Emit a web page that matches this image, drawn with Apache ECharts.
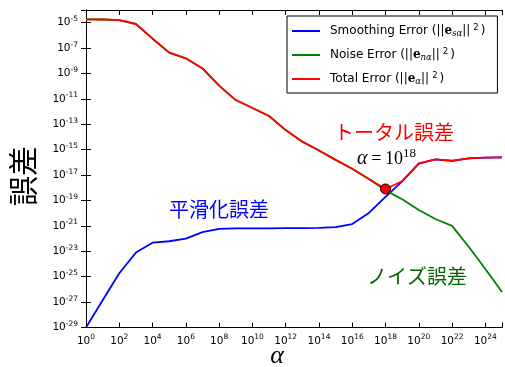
<!DOCTYPE html>
<html><head><meta charset="utf-8">
<script src="https://cdn.jsdelivr.net/npm/echarts@6/dist/echarts.min.js"></script>
<style>html,body{margin:0;padding:0;background:#fff}#c{width:505px;height:367px}</style>
</head><body><div id="c"></div>
<script>
// regularization parameter alpha
const alpha = [1e0,1e1,1e2,1e3,1e4,1e5,1e6,1e7,1e8,1e9,1e10,1e11,1e12,1e13,1e14,1e15,1e16,1e17,1e18,1e19,1e20,1e21,1e22,1e23,1e24,1e25];
const smoothingError = [1e-29,1.41e-27,1.86e-25,7.9e-24,4.8e-23,6.2e-23,1.0e-22,3.2e-22,5.8e-22,6.3e-22,6.3e-22,6.3e-22,6.6e-22,6.8e-22,7.1e-22,7.9e-22,1.4e-21,1.05e-20,1.9e-19,3.2e-18,7.9e-17,1.7e-16,1.32e-16,2.04e-16,2.34e-16,2.5e-16];
const noiseError = [1.86e-5,1.78e-5,1.62e-5,7.9e-6,5.5e-7,4.4e-8,1.58e-8,2.5e-9,1.12e-10,8.1e-12,1.9e-12,4.5e-13,3.5e-14,4.3e-15,8.7e-16,1.58e-16,3.2e-17,5.0e-18,6.3e-19,1.26e-19,1.78e-20,3.5e-21,1.0e-21,2.3e-23,4.0e-25,6.3e-27];
const totalError = [1.86e-5,1.78e-5,1.62e-5,7.9e-6,5.5e-7,4.4e-8,1.58e-8,2.5e-9,1.12e-10,8.1e-12,1.9e-12,4.5e-13,3.5e-14,4.3e-15,8.7e-16,1.58e-16,3.2e-17,5.0e-18,8.1e-19,3.3e-18,8.5e-17,1.74e-16,1.35e-16,2.1e-16,2.34e-16,2.5e-16];
const optimalIndex = 18; // alpha = 1e18
const seriesNames = ['Smoothing Error', 'Noise Error', 'Total Error'];
const legendSub = ['s\u03b1', 'n\u03b1', '\u03b1'];
const xExtent = [0, 25];   // log10 alpha
const yExtent = [-29, -4]; // log10 error

const chart = echarts.init(document.getElementById('c'), null, {renderer: 'canvas'});
const toPts = arr => alpha.map((a, i) => [Math.log10(a), Math.log10(arr[i])]);

const tickRich = {
  b: {fontSize: 10.5, fontFamily: 'DejaVu Sans', color: '#000'},
  s: {fontSize: 7.5, fontFamily: 'DejaVu Sans', color: '#000', padding: [0, 0, 7, 0]}
};
const fmtTick = maxV => v => (Math.abs(v - maxV) < 1e-9) ? '' : '{b|10}{s|' + Math.round(v) + '}';

const axisLine = {show: true, lineStyle: {color: '#000', width: 1}};
const axisTick = {show: true, inside: true, length: 5, lineStyle: {color: '#000', width: 1}};
const center = {align: 'center', verticalAlign: 'middle', textAlign: 'center', textVerticalAlign: 'middle'};

const option = {
  animation: false,
  backgroundColor: '#fff',
  grid: {left: 86, right: 1, top: 10, bottom: 39.5},
  xAxis: [
    {type: 'value', min: xExtent[0], max: xExtent[1], interval: 2, position: 'bottom',
     axisLine, axisTick, splitLine: {show: false},
     axisLabel: {margin: 6, formatter: fmtTick(xExtent[1]), rich: tickRich}},
    {type: 'value', min: xExtent[0], max: xExtent[1], interval: 2, position: 'top',
     axisLine, axisTick, splitLine: {show: false}, axisLabel: {show: false}}
  ],
  yAxis: [
    {type: 'value', min: yExtent[0], max: yExtent[1], interval: 2, position: 'left',
     axisLine, axisTick, splitLine: {show: false},
     axisLabel: {margin: 8, formatter: fmtTick(yExtent[1]), rich: tickRich}},
    {type: 'value', min: yExtent[0], max: yExtent[1], interval: 2, position: 'right',
     axisLine, axisTick, splitLine: {show: false}, axisLabel: {show: false}}
  ],
  legend: {
    orient: 'vertical', left: 287, top: 16,
    padding: [7, 12, 6, 5], itemGap: 8, itemWidth: 28, itemHeight: 2, icon: 'rect',
    borderColor: '#000', borderWidth: 1, borderRadius: 0, backgroundColor: '#fff',
    selectedMode: false,
    data: seriesNames,
    formatter: name => {
      const i = seriesNames.indexOf(name);
      return '{t|' + name + ' (||}{e|e}{sub|' + legendSub[i] + '}{t|||}{sup|2}{t|)}';
    },
    textStyle: {
      padding: [0, 0, 0, 5],
      rich: {
        t: {fontSize: 12, fontFamily: 'DejaVu Sans', color: '#000', lineHeight: 15},
        e: {fontSize: 12, fontFamily: 'DejaVu Serif', fontWeight: 'bold', color: '#000', lineHeight: 15},
        sub: {fontSize: 8.5, fontFamily: 'DejaVu Serif', fontStyle: 'italic', color: '#000', padding: [5, 0, 0, 0], lineHeight: 15},
        sup: {fontSize: 8.5, fontFamily: 'DejaVu Sans', color: '#000', padding: [0, 2, 7, 3], lineHeight: 15}
      }
    }
  },
  series: [
    {name: seriesNames[0], type: 'line', data: toPts(smoothingError), symbol: 'none', z: 2,
     lineStyle: {color: '#0000ff', width: 1.8}, itemStyle: {color: '#0000ff'}},
    {name: seriesNames[1], type: 'line', data: toPts(noiseError), symbol: 'none', z: 3,
     lineStyle: {color: '#008000', width: 1.8}, itemStyle: {color: '#008000'}},
    {name: seriesNames[2], type: 'line', data: toPts(totalError), symbol: 'none', z: 4,
     lineStyle: {color: '#ff0000', width: 1.8}, itemStyle: {color: '#ff0000'}},
    {name: 'optimum', type: 'scatter', z: 5, symbolSize: 10,
     data: [[Math.log10(alpha[optimalIndex]), Math.log10(totalError[optimalIndex])]],
     itemStyle: {color: '#ff0000', borderColor: '#000', borderWidth: 1, opacity: 1}}
  ],
  graphic: [
    {type: 'text', x: 23, y: 176, rotation: Math.PI / 2,
     style: Object.assign({text: '誤差', font: '30px "Noto Sans CJK JP"', fill: '#000'}, center)},
    {type: 'text', x: 277, y: 356,
     style: Object.assign({text: 'α', font: 'italic 26px "Liberation Serif"', fill: '#000'}, center)},
    {type: 'text', x: 394, y: 132.5,
     style: Object.assign({text: 'トータル誤差', font: '20px "Noto Sans CJK JP"', fill: '#ff0000'}, center)},
    {type: 'text', x: 219, y: 209,
     style: Object.assign({text: '平滑化誤差', font: '20px "Noto Sans CJK JP"', fill: '#0000ff'}, center)},
    {type: 'text', x: 417, y: 276,
     style: Object.assign({text: 'ノイズ誤差', font: '20px "Noto Sans CJK JP"', fill: '#006400'}, center)},
    {type: 'text', x: 386.5, y: 159,
     style: Object.assign({text: '{a|α}{q|\u2009=\u2009}{n|10}{s|18}',
       rich: {
         a: {fontSize: 20, fontFamily: 'Liberation Serif', fontStyle: 'italic', fill: '#000', color: '#000'},
         q: {fontSize: 18, fontFamily: 'Liberation Serif', fill: '#000', color: '#000'},
         n: {fontSize: 18, fontFamily: 'Liberation Serif', fill: '#000', color: '#000'},
         s: {fontSize: 13, fontFamily: 'Liberation Serif', fill: '#000', color: '#000', padding: [0, 0, 10, 0]}
       }}, center)}
  ]
};
chart.setOption(option);
</script>
</body></html>
